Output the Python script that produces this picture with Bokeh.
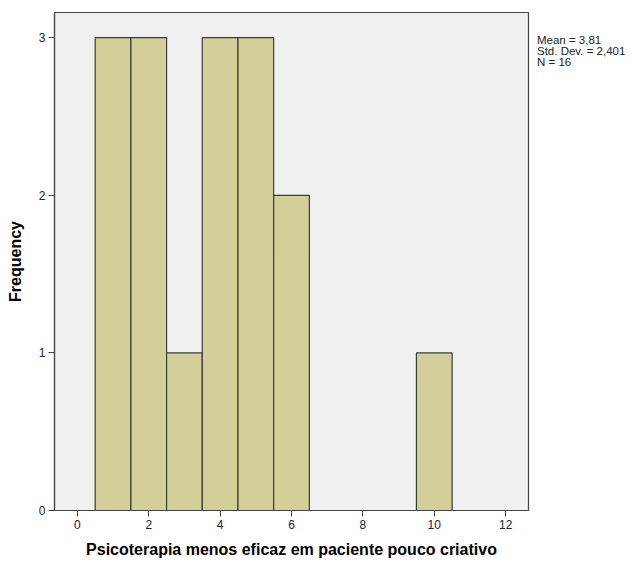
from bokeh.plotting import figure
from bokeh.models import FixedTicker, Range1d, Div
from bokeh.layouts import row
from bokeh.embed import file_html
from bokeh.resources import INLINE

# Data
bin_centers = [1, 2, 3, 4, 5, 6, 10]
counts = [3, 3, 1, 3, 3, 2, 1]
bin_width = 1.0
x_ticks = [0, 2, 4, 6, 8, 10, 12]
y_ticks = [0, 1, 2, 3]
stats_lines = ["Mean = 3,81", "Std. Dev. = 2,401", "N = 16"]
x_title = "Psicoterapia menos eficaz em paciente pouco criativo"
y_title = "Frequency"

p = figure(width=536, height=562, output_backend="svg", toolbar_location=None,
           x_range=Range1d(-0.64, 12.64), y_range=Range1d(0, 3.16),
           min_border_left=54, min_border_right=8, min_border_top=12, min_border_bottom=52)

p.background_fill_color = "#F0F0F0"
p.border_fill_color = "white"
p.outline_line_color = "#444444"
p.outline_line_width = 1.2
p.xgrid.visible = False
p.ygrid.visible = False

left = [c - bin_width / 2 for c in bin_centers]
right = [c + bin_width / 2 for c in bin_centers]
p.quad(left=left, right=right, top=counts, bottom=0,
       fill_color="#D3CF98", line_color="#3A3A3A", line_width=1.2)

for ax in (p.xaxis[0], p.yaxis[0]):
    ax.axis_line_color = "#444444"
    ax.axis_line_width = 1.2
    ax.major_tick_line_color = "#444444"
    ax.major_tick_out = 6
    ax.major_tick_in = 0
    ax.minor_tick_line_color = None
    ax.major_label_text_font = "Liberation Sans"
    ax.major_label_text_font_size = "12px"
    ax.major_label_text_color = "#222222"
    ax.axis_label_text_font = "Liberation Sans"
    ax.axis_label_text_font_style = "bold"
    ax.axis_label_text_font_size = "16px"
    ax.axis_label_text_color = "black"

p.xaxis[0].ticker = FixedTicker(ticks=x_ticks)
p.yaxis[0].ticker = FixedTicker(ticks=y_ticks)
p.xaxis[0].axis_label = x_title
p.yaxis[0].axis_label = y_title
p.xaxis[0].major_label_standoff = 3
p.xaxis[0].axis_label_standoff = 9
p.yaxis[0].major_label_standoff = 3
p.yaxis[0].axis_label_standoff = 12

stats = Div(text="<br>".join(stats_lines), width=96, height=562, margin=0,
            styles={"font-family": "Liberation Sans", "font-size": "11.5px",
                    "line-height": "11px", "color": "#222222",
                    "padding-top": "35px", "padding-left": "1px",
                    "white-space": "nowrap", "background": "white"})

layout = row(p, stats, spacing=0)
open("out.html", "w").write(file_html(layout, INLINE))
